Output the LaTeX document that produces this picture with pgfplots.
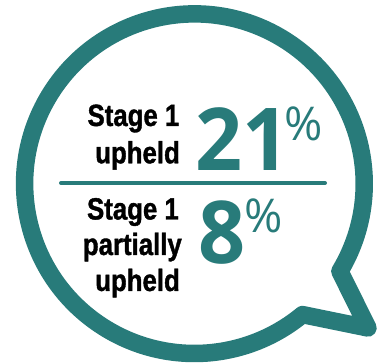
\documentclass[border=0pt]{standalone}
\usepackage{pgfplots}
\pgfplotsset{compat=1.18}
\usepackage{fontspec}
\setmainfont{Liberation Sans}
\newfontfamily\labfont[FakeStretch=0.84,FakeBold=1.2]{Liberation Sans}
\newfontfamily\numfont[FakeStretch=0.95]{Open Sans}
\newfontfamily\pctfont{Open Sans}
\definecolor{bubble}{RGB}{40,123,122}
\begin{document}
\begin{tikzpicture}
\begin{axis}[x=1pt,y=1pt,xmin=0,xmax=382,ymin=0,ymax=363,hide axis,clip=false]
\coordinate (LL) at (axis cs:0,0);
\coordinate (UR) at (axis cs:382,363);
\draw[bubble, line width=17.5pt, line join=round]
  (axis cs:302.5,48.4) -- (axis cs:368,35) -- (axis cs:339.85,91.7)
  arc[start angle=-31.06, end angle=309.55, radius=169.8pt] -- cycle;
\addplot[bubble, line width=4pt, line cap=round] coordinates {(61,180) (325,180)};
\begin{scope}[every node/.style={anchor=base east, inner sep=0pt, font=\labfont\bfseries\fontsize{30.7}{36}\selectfont}]
\node at (axis cs:179.5,237) {Stage 1};
\node at (axis cs:180,199.7) {upheld};
\node at (axis cs:179,143.5) {Stage 1};
\node at (axis cs:182,108) {partially};
\node at (axis cs:180,72) {upheld};
\end{scope}
\addplot[bubble, only marks, mark=none, point meta=explicit symbolic,
  nodes near coords={\pgfplotspointmeta\kern-6pt},
  nodes near coords style={anchor=base west, inner sep=0pt, text=bubble,
  font=\numfont\bfseries\fontsize{86.8}{90}\selectfont}]
  coordinates {(195,192.3) [21] (198,99) [8]};
\addplot[bubble, only marks, mark=none, nodes near coords={\%},
  nodes near coords style={anchor=north west, inner sep=0pt, text=bubble,
  font=\pctfont\fontsize{46.6}{50}\selectfont}]
  coordinates {(284,256.3) (244,164)};
\end{axis}
\pgfresetboundingbox
\useasboundingbox (LL) rectangle (UR);
\end{tikzpicture}
\end{document}
